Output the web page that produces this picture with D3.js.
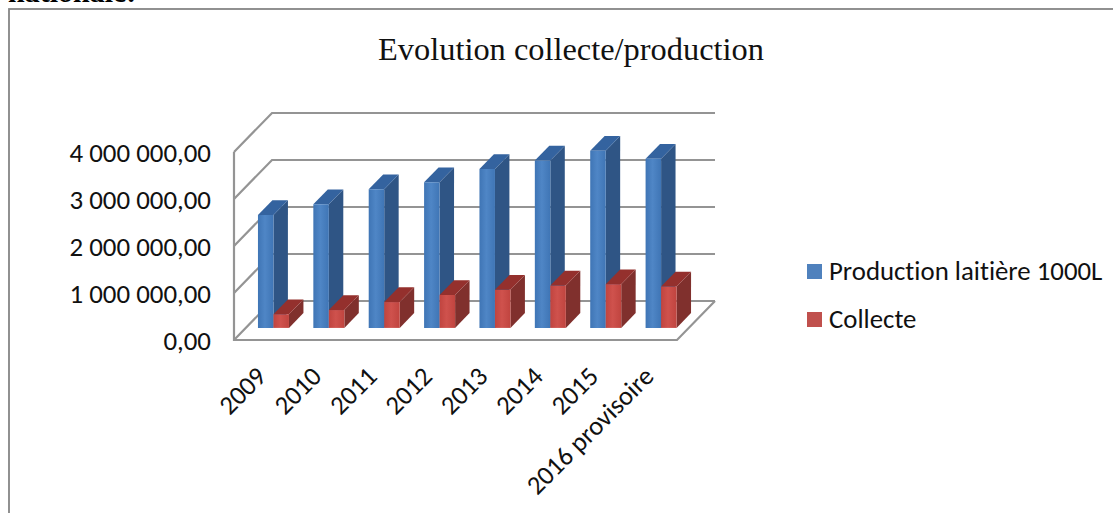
<!DOCTYPE html>
<html>
<head>
<meta charset="utf-8">
<script src="https://cdn.jsdelivr.net/npm/d3@7/dist/d3.min.js"></script>
<style>
html,body{margin:0;padding:0;background:#fff;overflow:hidden}
svg{display:block}
text{font-variant-ligatures:none}
</style>
</head>
<body>
<svg id="chart" width="1113" height="513"></svg>
<script>
const categories = ["2009","2010","2011","2012","2013","2014","2015","2016 provisoire"];
const production = [2400000,2630000,2950000,3100000,3380000,3560000,3770000,3600000];
const collecte = [290000,380000,550000,700000,810000,900000,930000,880000];
const yTicks = [0,1000000,2000000,3000000,4000000];
const yTickLabels = ["0,00","1 000 000,00","2 000 000,00","3 000 000,00","4 000 000,00"];
const seriesNames = ["Production laitière 1000L","Collecte"];

const svg = d3.select("#chart");
const uiFont = "Carlito, Calibri, 'Open Sans', sans-serif";

const x = d3.scaleBand().domain(categories).range([234,677]).paddingInner(0.44).paddingOuter(0.22);
const y = d3.scaleLinear().domain([0,4000000]).range([340,152]);
const inner = d3.scaleBand().domain(seriesNames).range([0,x.bandwidth()]);

// Oblique projection: depth runs from the front plane (0) to the back wall (1).
const depthX = d3.scaleLinear().domain([0,1]).range([0,38]);
const depthY = d3.scaleLinear().domain([0,1]).range([0,-39]);
const pt = (px,v,z) => [px+depthX(z), y(v)+depthY(z)];
const poly = pts => d3.line()(pts)+"Z";

// Page frame and the sentence cut off above it
svg.append("text").attr("x",8).attr("y",1.5)
  .attr("font-family","'Liberation Serif',serif").attr("font-size",30).attr("font-weight","bold")
  .text("nationale:");
svg.append("rect").attr("x",9).attr("y",9).attr("width",1130).attr("height",530)
  .attr("fill","none").attr("stroke","#858585").attr("stroke-width",1.8);

svg.append("text").attr("x",571).attr("y",60).attr("text-anchor","middle")
  .attr("font-family","'Liberation Serif',serif").attr("font-size",32.4).attr("fill","#111")
  .text("Evolution collecte/production");

const defs = svg.append("defs");
function barGradient(id,edge,mid){
  const g = defs.append("linearGradient").attr("id",id).attr("x1",0).attr("x2",1).attr("y1",0).attr("y2",0);
  g.append("stop").attr("offset","0%").attr("stop-color",edge);
  g.append("stop").attr("offset","45%").attr("stop-color",mid);
  g.append("stop").attr("offset","100%").attr("stop-color",edge);
}
barGradient("blueFront","#3f75b5","#4f86c6");
barGradient("redFront","#c0443f","#cf524d");

// Chart walls and floor
const gridColor = "#949494";
const grid = svg.append("g").attr("fill","none").attr("stroke",gridColor).attr("stroke-width",2.2);
yTicks.forEach(t=>{
  grid.append("path").attr("d",d3.line()([pt(234,t,0),pt(234,t,1),pt(677,t,1)]));
});
grid.append("path").attr("d",d3.line()([pt(234,4000000,0),pt(234,0,0),pt(677,0,0),pt(677,0,1)]));

// Bars, each one front, top and side face, painted back to front
const blueFaces = {front:"url(#blueFront)",top:"#34639f",side:"#2f5585"};
const redFaces = {front:"url(#redFront)",top:"#94302d",side:"#80302d"};
const zFront = 0.31, zBack = 0.69;
function drawBar(g,x0,w,v,faces){
  const x1 = x0+w;
  g.append("path").attr("fill",faces.side)
    .attr("d",poly([pt(x1,0,zFront),pt(x1,0,zBack),pt(x1,v,zBack),pt(x1,v,zFront)]));
  g.append("path").attr("fill",faces.top)
    .attr("d",poly([pt(x0,v,zFront),pt(x0,v,zBack),pt(x1,v,zBack),pt(x1,v,zFront)]));
  g.append("path").attr("fill",faces.front)
    .attr("d",poly([pt(x0,0,zFront),pt(x0,v,zFront),pt(x1,v,zFront),pt(x1,0,zFront)]));
}
const bars = svg.append("g");
categories.forEach((c,i)=>{
  drawBar(bars,x(c)+inner(seriesNames[0]),inner.bandwidth(),production[i],blueFaces);
  drawBar(bars,x(c)+inner(seriesNames[1]),inner.bandwidth(),collecte[i],redFaces);
});

// Value axis labels
svg.append("g").selectAll("text").data(yTicks).join("text")
  .attr("x",211).attr("y",d=>y(d)+10)
  .attr("text-anchor","end")
  .attr("font-family",uiFont).attr("font-size",26.9).attr("fill","#111")
  .text((d,i)=>yTickLabels[i]);

// Category labels, rotated
svg.append("g").selectAll("text").data(categories).join("text")
  .attr("transform",d=>`translate(${x(d)+x.bandwidth()/2+6},${378}) rotate(-45)`)
  .attr("text-anchor","end")
  .attr("font-family",uiFont).attr("font-size",26.5).attr("fill","#111")
  .text(d=>d);

// Legend
const legendColors = ["#4f81bd","#c0504d"];
const legendY = d3.scalePoint().domain(seriesNames).range([271,319]);
const legend = svg.append("g").selectAll("g").data(seriesNames).join("g")
  .attr("transform",d=>`translate(807,${legendY(d)})`);
legend.append("rect").attr("y",-7).attr("width",15).attr("height",15)
  .attr("fill",(d,i)=>legendColors[i]);
legend.append("text").attr("x",22).attr("y",9)
  .attr("font-family",uiFont).attr("font-size",26.8).attr("fill","#111")
  .text(d=>d);
</script>
</body>
</html>
